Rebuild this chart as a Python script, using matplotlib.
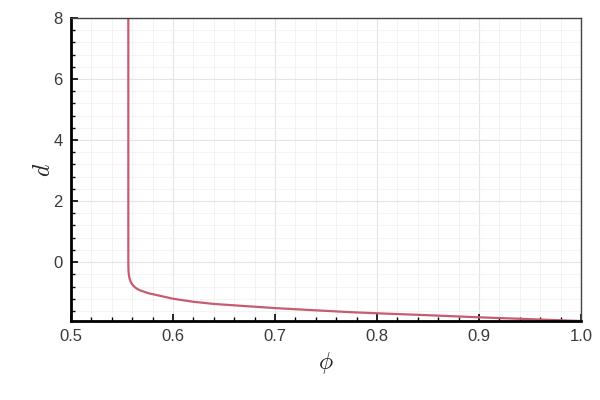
import matplotlib
matplotlib.use("Agg")
import matplotlib.pyplot as plt
from matplotlib.ticker import MultipleLocator

# values
phi = [0.5562, 0.5562, 0.5562, 0.5563, 0.5565, 0.5570, 0.5577, 0.5586,
       0.5598, 0.5613, 0.5632, 0.5655, 0.5680, 0.5715, 0.5760, 0.5840,
       0.6000, 0.6200, 0.6400, 0.6657, 0.7017, 0.7400, 0.7735,
       0.8100, 0.8420, 0.9010, 0.9500, 1.0]
d = [8.0, 4.0, 0.0, -0.20, -0.35, -0.47, -0.57, -0.65,
     -0.72, -0.78, -0.84, -0.89, -0.93, -0.97, -1.02, -1.08,
     -1.20, -1.30, -1.37, -1.43, -1.51, -1.58, -1.64,
     -1.69, -1.73, -1.81, -1.87, -1.93]

line_color = "#c95b70"

plt.rcParams["font.family"] = ["Liberation Sans", "DejaVu Sans"]
plt.rcParams["mathtext.fontset"] = "cm"

fig = plt.figure(figsize=(6, 4), dpi=100)
ax = fig.add_axes([71 / 600, 79 / 400, 510 / 600, 303 / 400])

ax.plot(phi, d, color=line_color, lw=1.6)

ax.set_xlim(0.5, 1.0)
ax.set_ylim(min(d), 8)

ax.xaxis.set_major_locator(MultipleLocator(0.1))
ax.xaxis.set_minor_locator(MultipleLocator(0.02))
ax.yaxis.set_major_locator(MultipleLocator(2))
ax.yaxis.set_minor_locator(MultipleLocator(0.4))
ax.xaxis.set_major_formatter(plt.FuncFormatter(lambda v, p: f"{v:.1f}"))
ax.yaxis.set_major_formatter(plt.FuncFormatter(lambda v, p: f"{v:.0f}"))

ax.grid(True, which="major", color="#e4e4e4", lw=0.8)
ax.grid(True, which="minor", color="#f1f1f1", lw=0.6)
ax.set_axisbelow(True)

ax.tick_params(which="both", direction="in", top=False, right=False,
               color="black", labelcolor="#3a3a3a", labelsize=12)
ax.tick_params(which="major", length=5, width=1.2, pad=6)
ax.tick_params(which="minor", length=3, width=1.0)

for side in ["left", "bottom"]:
    ax.spines[side].set_linewidth(2)
    ax.spines[side].set_color("black")
for side in ["top", "right"]:
    ax.spines[side].set_linewidth(1)
    ax.spines[side].set_color("#444444")

ax.set_xlabel(r"$\phi$", fontsize=17, color="#222222", labelpad=4)
ax.set_ylabel(r"$d$", fontsize=17, color="#222222", labelpad=-1)

fig.savefig("out.png", dpi=100)
